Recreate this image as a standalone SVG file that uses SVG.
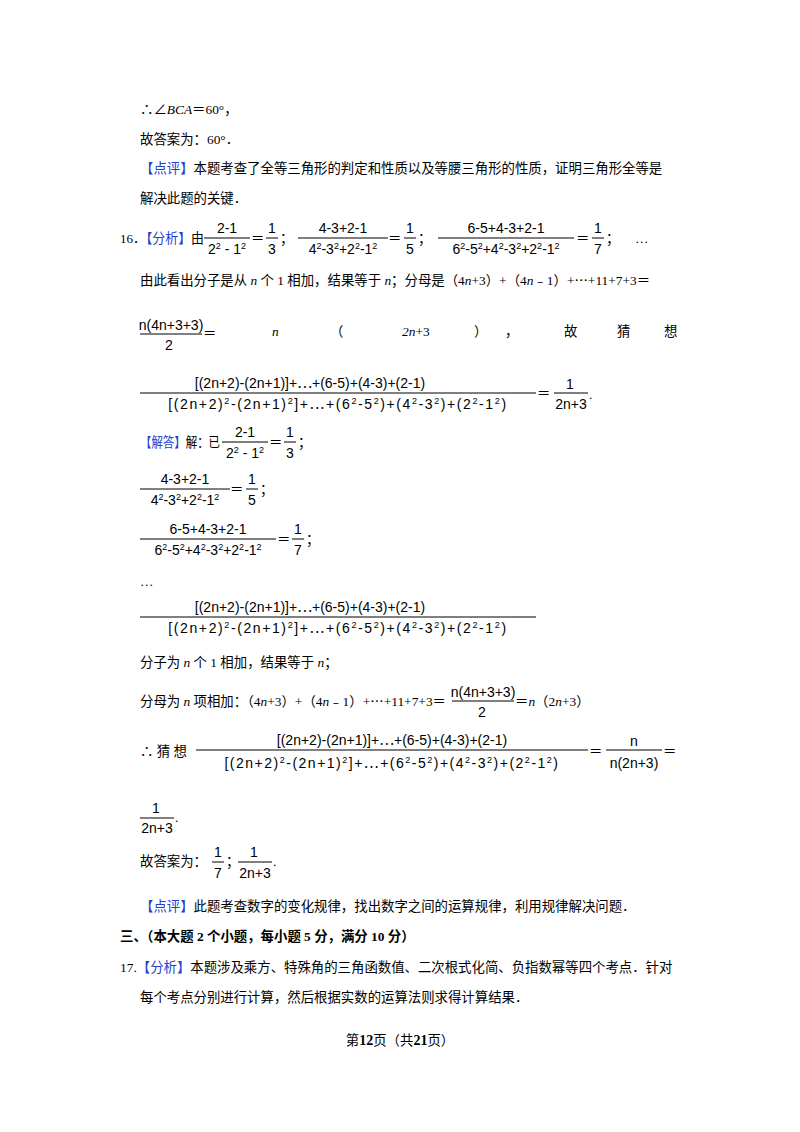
<svg xmlns="http://www.w3.org/2000/svg" width="800" height="1132" viewBox="0 0 800 1132">
<style>
text{font-family:"Liberation Serif","Noto Sans CJK SC",serif;font-size:13.4px;fill:#000}
.m{font-family:"Liberation Sans","Noto Sans CJK SC",sans-serif;font-size:14px}
.c{text-anchor:middle}
.b{fill:#2040d0}
.i{font-style:italic}
.bd{font-weight:bold}
.s{font-size:9px}
line{stroke:#000;stroke-width:1}
</style>
<rect width="800" height="1132" fill="#fff"/>
<text x="140" y="114">∴∠<tspan class="i">BCA</tspan>＝60°，</text>
<text x="140" y="144">故答案为：60°．</text>
<text x="140" y="173"><tspan class="b">【点评】</tspan>本题考查了全等三角形的判定和性质以及等腰三角形的性质，证明三角形全等是</text>
<text x="140" y="203">解决此题的关键．</text>

<text x="120" y="243" textLength="84" lengthAdjust="spacingAndGlyphs">16．<tspan class="b">【分析】</tspan>由</text>
<text class="m c" x="227" y="233">2-1</text><line x1="204" y1="238" x2="250" y2="238"/>
<text class="m c" x="227" y="254">2<tspan dy="-5" class="s">2</tspan><tspan dy="5"> - 1</tspan><tspan dy="-5" class="s">2</tspan></text>
<text x="251" y="243">＝</text><text class="m c" x="272" y="233">1</text><line x1="266" y1="238" x2="278" y2="238"/><text class="m c" x="272" y="254">3</text><text x="280" y="243">；</text>
<text class="m c" x="343" y="233">4-3+2-1</text><line x1="298" y1="238" x2="388" y2="238"/>
<text class="m c" x="343" y="254">4<tspan dy="-5" class="s">2</tspan><tspan dy="5">-3</tspan><tspan dy="-5" class="s">2</tspan><tspan dy="5">+2</tspan><tspan dy="-5" class="s">2</tspan><tspan dy="5">-1</tspan><tspan dy="-5" class="s">2</tspan></text>
<text x="388" y="243">＝</text><text class="m c" x="410" y="233">1</text><line x1="404" y1="238" x2="416" y2="238"/><text class="m c" x="410" y="254">5</text><text x="418" y="243">；</text>
<text class="m c" x="506" y="233">6-5+4-3+2-1</text><line x1="438" y1="238" x2="574" y2="238"/>
<text class="m c" x="506" y="254">6<tspan dy="-5" class="s">2</tspan><tspan dy="5">-5</tspan><tspan dy="-5" class="s">2</tspan><tspan dy="5">+4</tspan><tspan dy="-5" class="s">2</tspan><tspan dy="5">-3</tspan><tspan dy="-5" class="s">2</tspan><tspan dy="5">+2</tspan><tspan dy="-5" class="s">2</tspan><tspan dy="5">-1</tspan><tspan dy="-5" class="s">2</tspan></text>
<text x="576" y="243">＝</text><text class="m c" x="598" y="233">1</text><line x1="592" y1="238" x2="604" y2="238"/><text class="m c" x="598" y="254">7</text><text x="606" y="243">；</text><text x="635" y="243">…</text>

<text x="140" y="285">由此看出分子是从 <tspan class="i">n</tspan> 个 1 相加，结果等于 <tspan class="i">n</tspan>；分母是（4<tspan class="i">n</tspan>+3）+（4<tspan class="i">n</tspan>﹣1）+⋯+11+7+3＝</text>

<text class="m c" x="171" y="330">n(4n+3+3)</text><line x1="140" y1="334" x2="202" y2="334"/><text class="m c" x="169" y="350">2</text>
<text x="203" y="338">＝</text>
<text class="i" x="272" y="336">n</text><text x="330" y="336">（</text><text x="402" y="336"><tspan class="i">2n</tspan>+3</text><text x="474" y="336">）</text><text x="505" y="336">，</text><text x="564" y="336">故</text><text x="617" y="336">猜</text><text x="664" y="336">想</text>

<text class="m c" x="310" y="388">[(2n+2)-(2n+1)]+⋯+(6-5)+(4-3)+(2-1)</text>
<line x1="140" y1="393" x2="536" y2="393"/>
<text class="m c" x="338" y="409" letter-spacing="1.6">[(2n+2)<tspan dy="-5" class="s">2</tspan><tspan dy="5">-(2n+1)</tspan><tspan dy="-5" class="s">2</tspan><tspan dy="5">]+⋯+(6</tspan><tspan dy="-5" class="s">2</tspan><tspan dy="5">-5</tspan><tspan dy="-5" class="s">2</tspan><tspan dy="5">)+(4</tspan><tspan dy="-5" class="s">2</tspan><tspan dy="5">-3</tspan><tspan dy="-5" class="s">2</tspan><tspan dy="5">)+(2</tspan><tspan dy="-5" class="s">2</tspan><tspan dy="5">-1</tspan><tspan dy="-5" class="s">2</tspan><tspan dy="5">)</tspan></text>
<text x="537" y="398">＝</text><text class="m c" x="570" y="389">1</text><line x1="554" y1="393" x2="588" y2="393"/><text class="m c" x="571" y="409">2n+3</text><text x="589" y="399">.</text>

<text x="140" y="447" textLength="80" lengthAdjust="spacingAndGlyphs"><tspan class="b">【解答】</tspan>解：已</text>
<text class="m c" x="245" y="437">2-1</text><line x1="222" y1="442" x2="268" y2="442"/>
<text class="m c" x="245" y="458">2<tspan dy="-5" class="s">2</tspan><tspan dy="5"> - 1</tspan><tspan dy="-5" class="s">2</tspan></text>
<text x="269" y="447">＝</text><text class="m c" x="290" y="437">1</text><line x1="284" y1="442" x2="296" y2="442"/><text class="m c" x="290" y="458">3</text><text x="298" y="447">；</text>

<text class="m c" x="185" y="484">4-3+2-1</text><line x1="140" y1="489" x2="230" y2="489"/>
<text class="m c" x="185" y="505">4<tspan dy="-5" class="s">2</tspan><tspan dy="5">-3</tspan><tspan dy="-5" class="s">2</tspan><tspan dy="5">+2</tspan><tspan dy="-5" class="s">2</tspan><tspan dy="5">-1</tspan><tspan dy="-5" class="s">2</tspan></text>
<text x="230" y="494">＝</text><text class="m c" x="252" y="484">1</text><line x1="246" y1="489" x2="258" y2="489"/><text class="m c" x="252" y="505">5</text><text x="260" y="494">；</text>

<text class="m c" x="208" y="534">6-5+4-3+2-1</text><line x1="140" y1="539" x2="276" y2="539"/>
<text class="m c" x="208" y="555">6<tspan dy="-5" class="s">2</tspan><tspan dy="5">-5</tspan><tspan dy="-5" class="s">2</tspan><tspan dy="5">+4</tspan><tspan dy="-5" class="s">2</tspan><tspan dy="5">-3</tspan><tspan dy="-5" class="s">2</tspan><tspan dy="5">+2</tspan><tspan dy="-5" class="s">2</tspan><tspan dy="5">-1</tspan><tspan dy="-5" class="s">2</tspan></text>
<text x="277" y="544">＝</text><text class="m c" x="298" y="534">1</text><line x1="292" y1="539" x2="304" y2="539"/><text class="m c" x="298" y="555">7</text><text x="306" y="544">；</text>

<text x="140" y="586">…</text>

<text class="m c" x="310" y="612">[(2n+2)-(2n+1)]+⋯+(6-5)+(4-3)+(2-1)</text>
<line x1="140" y1="617" x2="536" y2="617"/>
<text class="m c" x="338" y="633" letter-spacing="1.6">[(2n+2)<tspan dy="-5" class="s">2</tspan><tspan dy="5">-(2n+1)</tspan><tspan dy="-5" class="s">2</tspan><tspan dy="5">]+⋯+(6</tspan><tspan dy="-5" class="s">2</tspan><tspan dy="5">-5</tspan><tspan dy="-5" class="s">2</tspan><tspan dy="5">)+(4</tspan><tspan dy="-5" class="s">2</tspan><tspan dy="5">-3</tspan><tspan dy="-5" class="s">2</tspan><tspan dy="5">)+(2</tspan><tspan dy="-5" class="s">2</tspan><tspan dy="5">-1</tspan><tspan dy="-5" class="s">2</tspan><tspan dy="5">)</tspan></text>

<text x="140" y="667">分子为 <tspan class="i">n</tspan> 个 1 相加，结果等于 <tspan class="i">n</tspan>；</text>

<text x="140" y="706">分母为 <tspan class="i">n</tspan> 项相加：（4<tspan class="i">n</tspan>+3）+（4<tspan class="i">n</tspan>﹣1）+⋯+11+7+3＝</text>
<text class="m c" x="483" y="697">n(4n+3+3)</text><line x1="452" y1="701" x2="514" y2="701"/><text class="m c" x="482" y="717">2</text>
<text x="515" y="706">＝<tspan class="i">n</tspan>（2<tspan class="i">n</tspan>+3）</text>

<text x="140" y="756">∴ 猜 想</text>
<text class="m c" x="392" y="745">[(2n+2)-(2n+1)]+⋯+(6-5)+(4-3)+(2-1)</text>
<line x1="196" y1="750" x2="588" y2="750"/>
<text class="m c" x="392" y="768" letter-spacing="1.5">[(2n+2)<tspan dy="-5" class="s">2</tspan><tspan dy="5">-(2n+1)</tspan><tspan dy="-5" class="s">2</tspan><tspan dy="5">]+⋯+(6</tspan><tspan dy="-5" class="s">2</tspan><tspan dy="5">-5</tspan><tspan dy="-5" class="s">2</tspan><tspan dy="5">)+(4</tspan><tspan dy="-5" class="s">2</tspan><tspan dy="5">-3</tspan><tspan dy="-5" class="s">2</tspan><tspan dy="5">)+(2</tspan><tspan dy="-5" class="s">2</tspan><tspan dy="5">-1</tspan><tspan dy="-5" class="s">2</tspan><tspan dy="5">)</tspan></text>
<text x="589" y="756">＝</text><text class="m c" x="634" y="746">n</text><line x1="606" y1="750" x2="662" y2="750"/><text class="m c" x="634" y="768">n(2n+3)</text><text x="663" y="756">＝</text>

<text class="m c" x="156" y="813">1</text><line x1="140" y1="818" x2="174" y2="818"/><text class="m c" x="157" y="833">2n+3</text><text x="175" y="822">.</text>

<text x="140" y="866">故答案为：</text>
<text class="m c" x="218" y="857">1</text><line x1="212" y1="862" x2="224" y2="862"/><text class="m c" x="218" y="878">7</text><text x="226" y="866">；</text>
<text class="m c" x="254" y="857">1</text><line x1="238" y1="862" x2="272" y2="862"/><text class="m c" x="255" y="878">2n+3</text><text x="273" y="866">.</text>

<text x="140" y="911"><tspan class="b">【点评】</tspan>此题考查数字的变化规律，找出数字之间的运算规律，利用规律解决问题．</text>
<text class="bd" x="120" y="941">三、（本大题 2 个小题，每小题 5 分，满分 10 分）</text>
<text x="120" y="972">17.<tspan class="b">【分析】</tspan>本题涉及乘方、特殊角的三角函数值、二次根式化简、负指数幂等四个考点．针对</text>
<text x="140" y="1002">每个考点分别进行计算，然后根据实数的运算法则求得计算结果．</text>
<text x="400" y="1045" class="c" font-size="12">第<tspan class="bd" font-size="14">12</tspan>页（共<tspan class="bd" font-size="14">21</tspan>页）</text>
</svg>
